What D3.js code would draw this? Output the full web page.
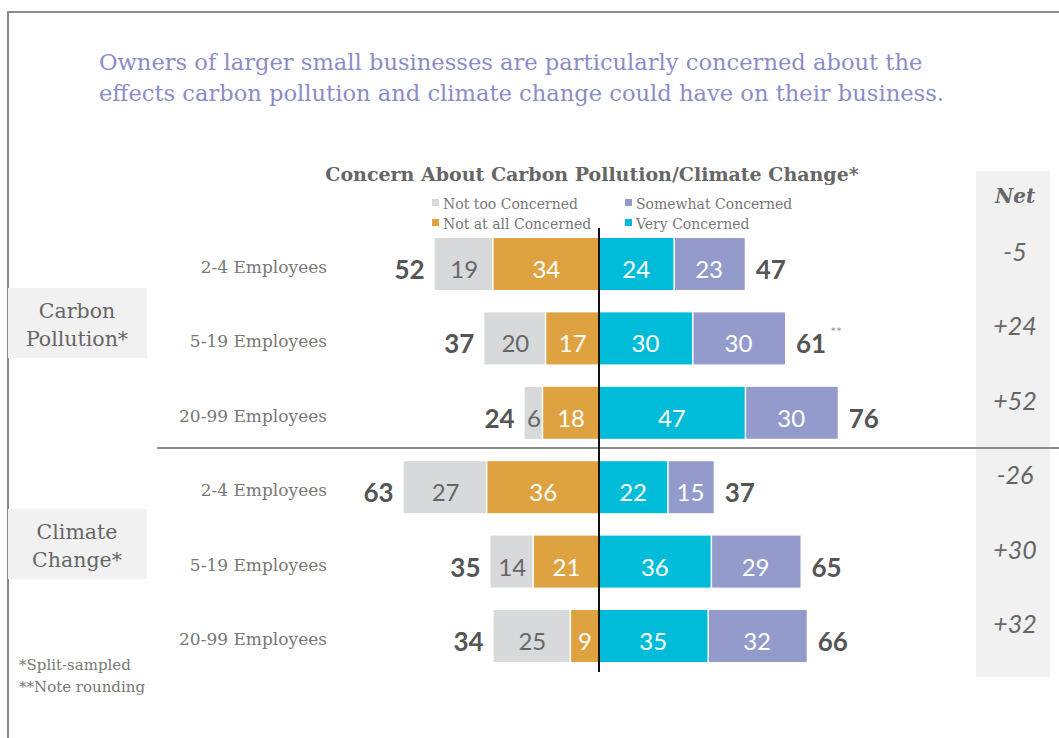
<!DOCTYPE html>
<html>
<head>
<meta charset="utf-8">
<script src="https://cdn.jsdelivr.net/npm/d3@7"></script>
<style>
  html, body { margin: 0; padding: 0; background: #fff; }
  svg { display: block; }
</style>
</head>
<body>
<svg id="chart" width="1059" height="738"></svg>
<script>
// ---- data ----
const groups = ["Carbon Pollution*", "Climate Change*"];
const sizeBands = ["2-4 Employees", "5-19 Employees", "20-99 Employees"];
const seriesNames = ["Not too Concerned", "Not at all Concerned", "Somewhat Concerned", "Very Concerned"];
// rows: carbon pollution (3 sizes), then climate change (3 sizes)
const notTooConcerned   = [19, 20, 6, 27, 14, 25];
const notAtAllConcerned = [34, 17, 18, 36, 21, 9];
const veryConcerned     = [24, 30, 47, 22, 36, 35];
const somewhatConcerned = [23, 30, 30, 15, 29, 32];
const totalUnconcerned  = [52, 37, 24, 63, 35, 34];
const totalConcerned    = [47, 61, 76, 37, 65, 66];
const netLabels         = ["-5", "+24", "+52", "-26", "+30", "+32"];
const totalNotes        = ["", "**", "", "", "", ""];

const colors = {
  "Not too Concerned": "#d8d9db",
  "Not at all Concerned": "#dfa241",
  "Somewhat Concerned": "#939bcc",
  "Very Concerned": "#00bcd8"
};

const svg = d3.select("#chart");
const serif = "'DejaVu Serif', serif";
const nums = "Lato, 'DejaVu Sans', sans-serif";

const rowIds = d3.range(6);
const y = d3.scalePoint().domain(rowIds).range([264, 636]);
const x = d3.scaleLinear().domain([-80, 80]).range([599 - 80 * 3.1, 599 + 80 * 3.1]);
const barH = 52;

// frame
svg.append("path")
  .attr("d", "M8,738 L8,12 L1059,12")
  .attr("fill", "none").attr("stroke", "#8a8a8a").attr("stroke-width", 2);

// headline
const title = svg.append("text")
  .attr("fill", "#8b8cc8")
  .style("font-family", serif).style("font-size", "22.6px");
title.append("tspan").attr("x", 99).attr("y", 70)
  .text("Owners of larger small businesses are particularly concerned about the");
title.append("tspan").attr("x", 99).attr("y", 101)
  .text("effects carbon pollution and climate change could have on their business.");

// chart heading
svg.append("text")
  .attr("x", 592).attr("y", 181).attr("text-anchor", "middle")
  .attr("fill", "#666")
  .style("font-family", serif).style("font-size", "19px").style("font-weight", "bold")
  .text("Concern About Carbon Pollution/Climate Change*");

// legend
const legendItems = [
  { name: "Not too Concerned", x: 432, y: 209 },
  { name: "Not at all Concerned", x: 432, y: 229 },
  { name: "Somewhat Concerned", x: 625, y: 209 },
  { name: "Very Concerned", x: 625, y: 229 }
];
const lg = svg.append("g").selectAll("g").data(legendItems).join("g")
  .attr("transform", d => `translate(${d.x},${d.y})`);
lg.append("rect").attr("x", 0).attr("y", -10).attr("width", 7).attr("height", 7)
  .attr("fill", d => colors[d.name]);
lg.append("text").attr("x", 11).attr("y", 0)
  .attr("fill", "#777")
  .style("font-family", serif).style("font-size", "14px")
  .text(d => d.name);

// net column background
svg.append("rect").attr("x", 976).attr("y", 171).attr("width", 74).attr("height", 506)
  .attr("fill", "#f1f1f1");
svg.append("text").attr("x", 1015).attr("y", 203).attr("text-anchor", "middle")
  .attr("fill", "#666")
  .style("font-family", serif).style("font-size", "20px")
  .style("font-weight", "bold").style("font-style", "italic")
  .text("Net");

// group labels
const groupBoxes = [{ name: groups[0], y: 288 }, { name: groups[1], y: 509 }];
const gb = svg.append("g").selectAll("g").data(groupBoxes).join("g");
gb.append("rect").attr("x", 8).attr("y", d => d.y).attr("width", 139).attr("height", 70)
  .attr("fill", "#f1f1f1");
gb.append("text")
  .attr("text-anchor", "middle").attr("fill", "#666")
  .style("font-family", serif).style("font-size", "20.5px")
  .each(function (d) {
    const words = d.name.split(" ");
    d3.select(this).append("tspan").attr("x", 77).attr("y", d.y + 30).text(words[0]);
    d3.select(this).append("tspan").attr("x", 77).attr("y", d.y + 58).text(words[1]);
  });

// section divider
svg.append("line").attr("x1", 157).attr("x2", 1059).attr("y1", 448).attr("y2", 448)
  .attr("stroke", "#8a8a8a").attr("stroke-width", 2);

// row labels
svg.append("g").selectAll("text").data(rowIds).join("text")
  .attr("x", 327).attr("y", i => y(i) + 9).attr("text-anchor", "end")
  .attr("fill", "#777")
  .style("font-family", serif).style("font-size", "17px")
  .text(i => sizeBands[i % 3]);

// stacked segments
const segments = [];
rowIds.forEach(i => {
  const a = notAtAllConcerned[i], b = notTooConcerned[i];
  const c = veryConcerned[i], d = somewhatConcerned[i];
  segments.push({ row: i, name: "Not at all Concerned", v: a, x0: -a, x1: 0, inner: true });
  segments.push({ row: i, name: "Not too Concerned", v: b, x0: -a - b, x1: -a, inner: false });
  segments.push({ row: i, name: "Very Concerned", v: c, x0: 0, x1: c, inner: true });
  segments.push({ row: i, name: "Somewhat Concerned", v: d, x0: c, x1: c + d, inner: false });
});
const gap = 1.5;
const seg = svg.append("g").selectAll("g").data(segments).join("g");
seg.append("rect")
  .attr("x", d => d.x1 <= 0 ? x(d.x0) : x(d.x0) + (d.inner ? 0 : gap))
  .attr("width", d => Math.max(0, x(d.x1) - x(d.x0) - (d.inner ? 0 : gap)))
  .attr("y", d => y(d.row) - barH / 2)
  .attr("height", barH)
  .attr("fill", d => colors[d.name]);
seg.append("text")
  .attr("x", d => (x(d.x0) + x(d.x1)) / 2)
  .attr("y", d => y(d.row) + 14)
  .attr("text-anchor", "middle")
  .attr("fill", d => d.name === "Not too Concerned" ? "#666" : "#fff")
  .style("font-family", nums).style("font-size", "24px")
  .text(d => d.v);

// totals
svg.append("g").selectAll("text").data(rowIds).join("text")
  .attr("x", i => x(-notAtAllConcerned[i] - notTooConcerned[i]) - 10)
  .attr("y", i => y(i) + 15).attr("text-anchor", "end")
  .attr("fill", "#555")
  .style("font-family", nums).style("font-size", "26px").style("font-weight", "bold")
  .text(i => totalUnconcerned[i]);
const rt = svg.append("g").selectAll("text").data(rowIds).join("text")
  .attr("x", i => x(veryConcerned[i] + somewhatConcerned[i]) + 11)
  .attr("y", i => y(i) + 15)
  .attr("fill", "#555")
  .style("font-family", nums).style("font-size", "26px").style("font-weight", "bold");
rt.append("tspan").text(i => totalConcerned[i]);
rt.append("tspan").attr("dx", 4).attr("dy", -16)
  .attr("fill", "#999").style("font-size", "14px").style("font-weight", "normal")
  .text(i => totalNotes[i]);

// center axis
svg.append("line").attr("x1", x(0)).attr("x2", x(0)).attr("y1", 228).attr("y2", 672)
  .attr("stroke", "#111").attr("stroke-width", 2);

// net values
svg.append("g").selectAll("text").data(rowIds).join("text")
  .attr("x", 1015).attr("y", i => y(i) - 3).attr("text-anchor", "middle")
  .attr("fill", "#666")
  .style("font-family", nums).style("font-size", "25px").style("font-style", "italic")
  .text(i => netLabels[i]);

// footnotes
svg.append("text").attr("x", 19).attr("y", 670).attr("fill", "#777")
  .style("font-family", serif).style("font-size", "15px").text("*Split-sampled");
svg.append("text").attr("x", 19).attr("y", 692).attr("fill", "#777")
  .style("font-family", serif).style("font-size", "15px").text("**Note rounding");
</script>
</body>
</html>
